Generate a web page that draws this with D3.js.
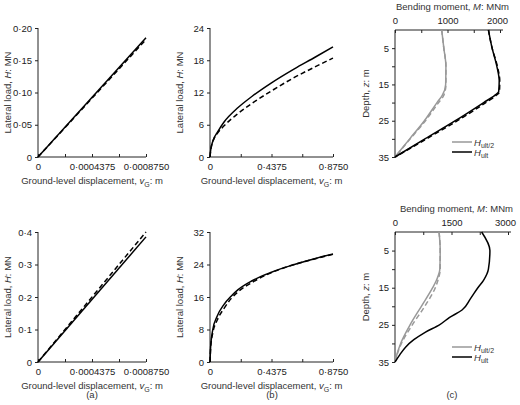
<!DOCTYPE html><html><head><meta charset="utf-8">
<script src="https://cdn.jsdelivr.net/npm/d3@7"></script>
<style>body{margin:0;background:#fff}text{font-family:"Liberation Sans",Arial,sans-serif}</style></head><body>
<svg id="c" width="520" height="405"></svg>
<script>
// Panel (a) top / bottom: linear load-displacement
const aTopSolid=[[0,0],[0.000875,0.185]];
const aTopDash=[[0,0],[0.000865,0.18]];
const aBotSolid=[[0,0],[0.000875,0.385]];
const aBotDash=[[0,0],[0.000875,0.40]];
// Panel (b)
const bTopSolid=[[0,0],[0.005,1.3],[0.01,2],[0.03,3.6],[0.05,4.5],[0.1,6.5],[0.2,9.2],[0.3,11.3],[0.4375,13.8],[0.6,16.4],[0.75,18.6],[0.875,20.5]];
const bTopDash=[[0,0],[0.005,1.3],[0.01,2],[0.03,3.5],[0.05,4.3],[0.1,5.8],[0.2,8.1],[0.3,10],[0.4375,12.3],[0.6,14.8],[0.75,16.8],[0.875,18.4]];
const bBotSolid=[[0,0],[0.005,4],[0.02,8],[0.05,11.2],[0.1,14.2],[0.15,16.2],[0.2,17.8],[0.3,20],[0.4375,22.1],[0.6,24],[0.75,25.5],[0.875,26.6]];
const bBotDash=[[0,0],[0.005,3.6],[0.02,7.2],[0.05,10.2],[0.1,13.2],[0.15,15.6],[0.2,17.3],[0.3,19.6],[0.4375,22],[0.6,24],[0.75,25.4],[0.875,26.5]];
// Panel (c): [depth, moment]
const cTopHalf=[[0,890],[5,930],[10,970],[15,965],[18,900],[20,800],[25,560],[30,280],[35,0]];
const cTopHalfD=[[0,890],[5,930],[10,970],[15,970],[18,930],[20,830],[25,580],[30,290],[35,0]];
const cTopUlt=[[0,1780],[5,1850],[10,1940],[14,1985],[17,1975],[18,1900],[20,1690],[25,1150],[30,570],[35,0]];
const cTopUltD=[[0,1780],[5,1850],[10,1950],[14,1995],[17,1990],[18,1930],[20,1730],[25,1190],[30,600],[35,0]];
const cBotHalf=[[0,1170],[5,1200],[10,1190],[13,1100],[15,1000],[20,700],[25,400],[30,150],[33,50],[35,0]];
const cBotHalfD=[[0,1170],[5,1200],[10,1200],[13,1140],[15,1070],[20,790],[25,460],[30,170],[33,55],[35,0]];
const cBotUlt=[[0,2300],[5,2520],[10,2480],[13,2350],[15,2200],[18,2000],[21,1780],[23,1450],[25,1180],[27,800],[29,500],[31,280],[33,130],[35,0]];
const aTopTicks=[0,0.05,0.10,0.15,0.20], aBotTicks=[0,0.1,0.2,0.3,0.4];
const bTopTicks=[0,6,12,18,24], bBotTicks=[0,8,16,24,32];

const svg=d3.select("#c");
const FS=9.5;
const dot=s=>s.replace(".","·");
function axisStyle(g){g.selectAll("path,line").attr("stroke","#222");g.selectAll("text").attr("font-size",FS).attr("fill","#222");}
function lp(xmax,ymax,x0,x1,y0,y1,yTicks,yFmt,xFmt,lines){
  const x=d3.scaleLinear([0,xmax],[x0,x1]), y=d3.scaleLinear([0,ymax],[y0,y1]);
  const gx=svg.append("g").attr("transform",`translate(0,${y0})`).call(d3.axisBottom(x).tickValues(d3.range(0,5).map(i=>xmax*i/4)).tickSize(3).tickFormat((d,i)=>i%2?"":xFmt(d)));
  gx.selectAll(".tick line").attr("y2",-3);axisStyle(gx);
  const gy=svg.append("g").attr("transform",`translate(${x0},0)`).call(d3.axisLeft(y).tickValues(yTicks).tickSize(3).tickFormat(yFmt));axisStyle(gy);
  gx.select(".domain").attr("d",`M${x0},0H${x1}`);gy.select(".domain").attr("d",`M0,${y0}V${y1}`);
  const line=d3.line().x(d=>x(d[0])).y(d=>y(d[1])).curve(d3.curveMonotoneX);
  lines.forEach(([data,dash])=>svg.append("path").attr("d",line(data)).attr("fill","none").attr("stroke","#000").attr("stroke-width",1.5).attr("stroke-dasharray",dash?"5,3":null));
  const t=svg.append("text").attr("x",(x0+x1)/2).attr("y",y0+27).attr("text-anchor","middle").attr("font-size",FS).attr("fill","#333");
  t.append("tspan").text("Ground-level displacement, ");t.append("tspan").attr("font-style","italic").text("v");
  t.append("tspan").attr("font-size",7).attr("dy",3).text("G");t.append("tspan").attr("dy",-3).text(": m");
  const yl=svg.append("text").attr("transform",`translate(${x0-27},${(y0+y1)/2}) rotate(-90)`).attr("text-anchor","middle").attr("font-size",FS).attr("fill","#333");
  yl.append("tspan").text("Lateral load, ");yl.append("tspan").attr("font-style","italic").text("H");yl.append("tspan").text(": MN");
}
const fA=d=>d===0?"0":dot(d.toFixed(7)), fB=d=>d===0?"0":dot(d.toFixed(4));
lp(0.000875,0.2,38,146,157,28,aTopTicks,d=>d===0?"0":dot(d.toFixed(2)),fA,[[aTopSolid,0],[aTopDash,1]]);
lp(0.000875,0.4,38,146,362,232,aBotTicks,d=>d===0?"0":dot(d.toFixed(1)),fA,[[aBotSolid,0],[aBotDash,1]]);
lp(0.875,24,210,333,157,28,bTopTicks,d=>d,fB,[[bTopSolid,0],[bTopDash,1]]);
lp(0.875,32,210,333,362,232,bBotTicks,d=>d,fB,[[bBotSolid,0],[bBotDash,1]]);

function cp(mmax,x0,x1,y0,y1,lines,legY){
  const x=d3.scaleLinear([0,mmax],[x0,x1]), y=d3.scaleLinear([0,35],[y0,y1]);
  const gx=svg.append("g").attr("transform",`translate(0,${y0})`).call(d3.axisTop(x).tickValues(d3.range(0,5).map(i=>mmax*i/4)).tickSize(3).tickFormat((d,i)=>i%2?"":d));
  gx.selectAll(".tick line").attr("y2",3);axisStyle(gx);gx.select(".domain").attr("d",`M${x0},0H${x1+3}`);
  gx.selectAll(".tick text").filter((d,i)=>i===4).attr("dx",-3);
  const gy=svg.append("g").attr("transform",`translate(${x0},0)`).call(d3.axisLeft(y).tickValues(d3.range(5,36,5)).tickSize(3).tickFormat(d=>d%10===5?d:""));
  axisStyle(gy);gy.select(".domain").attr("d",`M0,${y0}V${y1}`);
  const line=d3.line().x(d=>x(d[1])).y(d=>y(d[0])).curve(d3.curveMonotoneY);
  lines.forEach(([data,col,dash])=>svg.append("path").attr("d",line(data)).attr("fill","none").attr("stroke",col).attr("stroke-width",1.5).attr("stroke-dasharray",dash?"5,3":null));
  const t=svg.append("text").attr("x",(x0+x1)/2+5).attr("y",y0-20).attr("text-anchor","middle").attr("font-size",FS).attr("fill","#333");
  t.append("tspan").text("Bending moment, ");t.append("tspan").attr("font-style","italic").text("M");t.append("tspan").text(": MNm");
  const yl=svg.append("text").attr("transform",`translate(${x0-26},${(y0+y1)/2}) rotate(-90)`).attr("text-anchor","middle").attr("font-size",FS).attr("fill","#333");
  yl.append("tspan").text("Depth, ");yl.append("tspan").attr("font-style","italic").text("z");yl.append("tspan").text(": m");
  [["#999","ult/2",legY],["#000","ult",legY+10]].forEach(([c,s,ly])=>{
    svg.append("line").attr("x1",452).attr("x2",472).attr("y1",ly).attr("y2",ly).attr("stroke",c).attr("stroke-width",1.5);
    const lt=svg.append("text").attr("x",474).attr("y",ly+4).attr("font-size",FS).attr("fill","#333");
    lt.append("tspan").attr("font-style","italic").text("H");lt.append("tspan").attr("font-size",7).attr("dy",2).text(s);
  });
}
cp(2000,395,500,30,157,[[cTopHalf,"#999",0],[cTopHalfD,"#999",1],[cTopUlt,"#000",0],[cTopUltD,"#000",1]],142);
cp(3000,395,508,232,362,[[cBotHalf,"#999",0],[cBotHalfD,"#999",1],[cBotUlt,"#000",0]],347);
[["(a)",92],["(b)",272],["(c)",452]].forEach(([s,xx])=>svg.append("text").attr("x",xx).attr("y",398).attr("text-anchor","middle").attr("font-size",FS).attr("fill","#333").text(s));
</script></body></html>
